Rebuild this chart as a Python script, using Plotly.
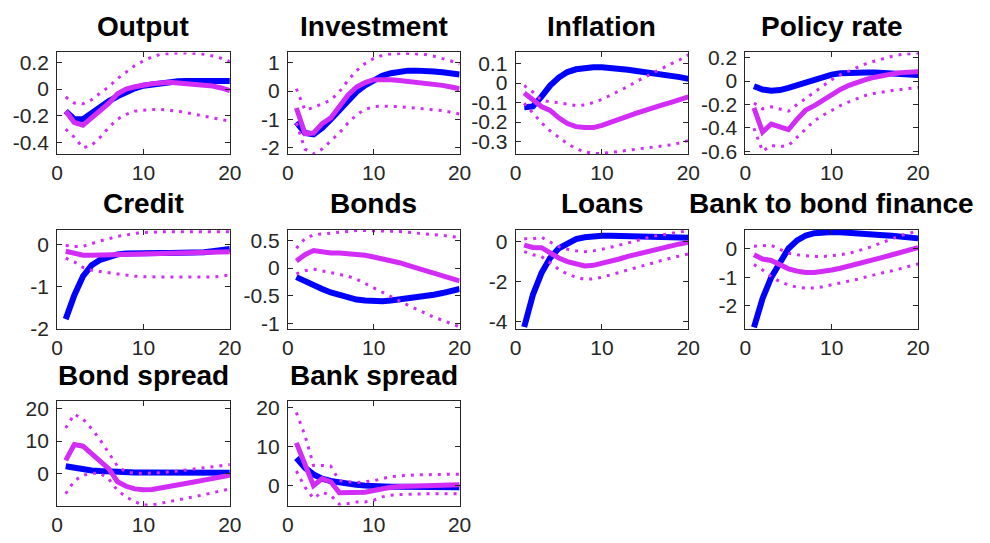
import plotly.graph_objects as go

horizon = list(range(1, 21))
titles = ["Output", "Investment", "Inflation", "Policy rate", "Credit", "Bonds",
          "Loans", "Bank to bond finance", "Bond spread", "Bank spread"]

output_blue = [-0.165, -0.225, -0.225, -0.18, -0.13, -0.09, -0.055, -0.02, 0.005, 0.025,
               0.035, 0.045, 0.053, 0.058, 0.06, 0.06, 0.06, 0.06, 0.06, 0.06]
output_mag = [-0.165, -0.25, -0.27, -0.215, -0.155, -0.105, -0.035, 0.0, 0.017, 0.033,
              0.04, 0.045, 0.05, 0.045, 0.04, 0.035, 0.028, 0.022, 0.008, -0.012]
output_hi = [-0.06, -0.105, -0.11, -0.08, -0.03, 0.017, 0.078, 0.126, 0.175, 0.21,
             0.24, 0.26, 0.267, 0.27, 0.27, 0.267, 0.26, 0.247, 0.23, 0.205]
output_lo = [-0.3, -0.36, -0.44, -0.42, -0.36, -0.286, -0.225, -0.19, -0.165, -0.157,
             -0.153, -0.153, -0.157, -0.165, -0.177, -0.19, -0.2, -0.213, -0.225, -0.24]

invest_blue = [-1.1, -1.48, -1.53, -1.3, -1.0, -0.67, -0.32, -0.03, 0.2, 0.39,
               0.54, 0.63, 0.69, 0.72, 0.72, 0.72, 0.69, 0.66, 0.62, 0.58]
invest_mag = [-0.6, -1.5, -1.48, -1.15, -0.95, -0.55, -0.15, 0.14, 0.3, 0.4,
              0.42, 0.4, 0.37, 0.34, 0.31, 0.28, 0.25, 0.2, 0.14, 0.08]
invest_hi = [0.08, -0.67, -0.58, -0.44, -0.32, -0.03, 0.37, 0.72, 0.97, 1.15,
             1.26, 1.31, 1.33, 1.33, 1.31, 1.29, 1.23, 1.15, 1.06, 0.95]
invest_lo = [-1.13, -2.05, -2.22, -2.05, -1.76, -1.48, -1.13, -0.84, -0.65, -0.55,
             -0.53, -0.53, -0.55, -0.58, -0.61, -0.65, -0.67, -0.69, -0.75, -0.81]

infl_blue = [-0.124, -0.12, -0.07, -0.013, 0.028, 0.056, 0.07, 0.078, 0.081, 0.081,
             0.078, 0.073, 0.068, 0.061, 0.056, 0.05, 0.043, 0.036, 0.03, 0.021]
infl_mag = [-0.051, -0.088, -0.12, -0.14, -0.178, -0.207, -0.223, -0.228, -0.228, -0.217,
            -0.2, -0.187, -0.17, -0.154, -0.14, -0.129, -0.112, -0.099, -0.084, -0.071]
infl_hi = [-0.013, -0.046, -0.088, -0.096, -0.1, -0.109, -0.116, -0.112, -0.1, -0.084,
           -0.063, -0.041, -0.018, 0.008, 0.031, 0.053, 0.078, 0.098, 0.119, 0.144]
infl_lo = [-0.104, -0.154, -0.203, -0.245, -0.278, -0.31, -0.336, -0.352, -0.36, -0.36,
           -0.355, -0.349, -0.344, -0.336, -0.33, -0.327, -0.322, -0.316, -0.306, -0.294]

policy_blue = [-0.044, -0.072, -0.083, -0.077, -0.058, -0.036, -0.008, 0.019, 0.039, 0.055,
               0.066, 0.072, 0.074, 0.074, 0.074, 0.072, 0.069, 0.063, 0.058, 0.052]
policy_mag = [-0.229, -0.436, -0.367, -0.386, -0.414, -0.326, -0.248, -0.21, -0.16, -0.11,
              -0.072, -0.036, -0.008, 0.014, 0.033, 0.05, 0.061, 0.072, 0.077, 0.08]
policy_hi = [-0.188, -0.237, -0.22, -0.237, -0.257, -0.2, -0.146, -0.091, -0.036, 0.011,
             0.055, 0.088, 0.121, 0.149, 0.171, 0.193, 0.212, 0.226, 0.234, 0.24]
policy_lo = [-0.403, -0.6, -0.55, -0.56, -0.55, -0.477, -0.403, -0.339, -0.292, -0.248,
             -0.21, -0.177, -0.146, -0.121, -0.105, -0.091, -0.08, -0.072, -0.063, -0.055]

credit_blue = [-1.78, -1.21, -0.76, -0.5, -0.37, -0.29, -0.24, -0.22, -0.21, -0.21,
               -0.21, -0.21, -0.21, -0.21, -0.21, -0.2, -0.19, -0.165, -0.14, -0.11]
credit_mag = [-0.165, -0.22, -0.26, -0.26, -0.255, -0.24, -0.235, -0.225, -0.217, -0.217,
              -0.217, -0.217, -0.21, -0.21, -0.21, -0.21, -0.2, -0.195, -0.19, -0.18]
credit_hi = [-0.03, -0.05, -0.05, 0.02, 0.08, 0.13, 0.19, 0.22, 0.26, 0.28,
             0.29, 0.3, 0.3, 0.3, 0.3, 0.3, 0.3, 0.3, 0.3, 0.3]
credit_lo = [-0.33, -0.42, -0.55, -0.62, -0.65, -0.68, -0.7, -0.73, -0.76, -0.77,
             -0.78, -0.78, -0.78, -0.78, -0.78, -0.78, -0.78, -0.78, -0.76, -0.73]

bonds_blue = [-0.163, -0.24, -0.31, -0.376, -0.44, -0.49, -0.54, -0.567, -0.585, -0.596,
              -0.596, -0.585, -0.567, -0.55, -0.527, -0.504, -0.48, -0.45, -0.42, -0.376]
bonds_mag = [0.126, 0.242, 0.317, 0.29, 0.27, 0.27, 0.26, 0.247, 0.23, 0.2,
             0.172, 0.138, 0.097, 0.05, 0.005, -0.047, -0.094, -0.134, -0.18, -0.232]
bonds_hi = [0.357, 0.53, 0.6, 0.617, 0.63, 0.646, 0.658, 0.675, 0.675, 0.675,
            0.675, 0.664, 0.658, 0.646, 0.63, 0.617, 0.6, 0.588, 0.57, 0.548]
bonds_lo = [-0.105, -0.047, -0.018, -0.047, -0.076, -0.105, -0.146, -0.2, -0.28, -0.354,
            -0.435, -0.52, -0.6, -0.67, -0.74, -0.815, -0.885, -0.94, -1.0, -1.06]

loans_blue = [-4.29, -2.67, -1.57, -0.81, -0.32, -0.05, 0.15, 0.24, 0.29, 0.31,
              0.31, 0.29, 0.29, 0.29, 0.28, 0.26, 0.25, 0.24, 0.23, 0.21]
loans_mag = [-0.16, -0.28, -0.29, -0.57, -0.81, -0.99, -1.13, -1.21, -1.18, -1.09,
             -0.97, -0.86, -0.73, -0.62, -0.49, -0.37, -0.28, -0.19, -0.1, -0.02]
loans_hi = [0.16, 0.16, 0.24, 0.0, -0.24, -0.37, -0.45, -0.49, -0.45, -0.37,
            -0.28, -0.16, -0.05, 0.08, 0.19, 0.29, 0.37, 0.44, 0.5, 0.57]
loans_lo = [-0.49, -0.65, -0.73, -1.05, -1.38, -1.62, -1.78, -1.89, -1.86, -1.78,
            -1.67, -1.54, -1.41, -1.3, -1.18, -1.05, -0.92, -0.81, -0.7, -0.6]

b2b_blue = [-2.75, -1.74, -1.01, -0.45, 0.0, 0.28, 0.45, 0.53, 0.56, 0.57,
            0.56, 0.55, 0.53, 0.51, 0.48, 0.46, 0.44, 0.42, 0.38, 0.35]
b2b_mag = [-0.22, -0.37, -0.42, -0.56, -0.71, -0.79, -0.84, -0.84, -0.81, -0.75,
           -0.69, -0.62, -0.54, -0.46, -0.38, -0.3, -0.22, -0.15, -0.06, 0.03]
b2b_hi = [0.08, 0.09, 0.11, -0.03, -0.17, -0.22, -0.26, -0.28, -0.28, -0.26,
          -0.22, -0.17, -0.09, 0.0, 0.11, 0.22, 0.34, 0.45, 0.53, 0.6]
b2b_lo = [-0.56, -0.75, -0.98, -1.16, -1.27, -1.35, -1.38, -1.38, -1.33, -1.27,
          -1.2, -1.13, -1.07, -0.99, -0.91, -0.84, -0.78, -0.7, -0.62, -0.54]

bondspr_blue = [2.2, 1.7, 1.2, 0.9, 0.7, 0.5, 0.4, 0.3, 0.3, 0.3,
                0.3, 0.25, 0.25, 0.2, 0.2, 0.2, 0.2, 0.2, 0.2, 0.2]
bondspr_mag = [4.0, 8.9, 8.4, 6.2, 4.0, 1.4, -2.6, -4.0, -4.8, -5.1,
               -5.0, -4.6, -4.1, -3.6, -3.1, -2.6, -2.1, -1.6, -1.1, -0.6]
bondspr_hi = [14.0, 18.3, 16.8, 13.8, 10.3, 6.2, 2.2, 0.4, 0.0, 0.0,
              0.0, 0.2, 0.4, 0.7, 1.0, 1.4, 1.7, 2.0, 2.4, 2.7]
bondspr_lo = [-6.3, -2.3, -0.6, 0.0, 0.0, -1.8, -5.3, -7.3, -8.8, -9.8,
              -9.8, -9.3, -8.8, -8.3, -7.8, -7.3, -6.6, -6.0, -5.4, -4.8]

bankspr_blue = [7.1, 4.6, 2.9, 1.8, 1.2, 0.75, 0.4, 0.2, 0.0, -0.2,
                -0.25, -0.3, -0.3, -0.3, -0.35, -0.35, -0.35, -0.4, -0.4, -0.4]
bankspr_mag = [11.0, 5.8, 0.0, 1.8, 1.0, -1.8, -1.7, -1.5, -1.7, -1.25,
               -0.7, -0.4, -0.25, -0.17, -0.1, 0.0, 0.05, 0.1, 0.15, 0.2]
bankspr_hi = [18.8, 12.9, 5.2, 5.2, 5.0, 1.25, 1.0, 0.8, 1.0, 1.25,
              1.8, 2.3, 2.5, 2.7, 2.75, 2.8, 2.9, 2.9, 2.9, 2.9]
bankspr_lo = [3.75, -0.4, -3.3, -1.7, -2.5, -4.8, -4.6, -4.2, -4.2, -3.75,
              -2.9, -2.5, -2.3, -2.2, -2.1, -2.1, -2.1, -2.1, -2.1, -2.1]

blue_series = [output_blue, invest_blue, infl_blue, policy_blue, credit_blue,
               bonds_blue, loans_blue, b2b_blue, bondspr_blue, bankspr_blue]
mag_series = [output_mag, invest_mag, infl_mag, policy_mag, credit_mag,
              bonds_mag, loans_mag, b2b_mag, bondspr_mag, bankspr_mag]
hi_series = [output_hi, invest_hi, infl_hi, policy_hi, credit_hi,
             bonds_hi, loans_hi, b2b_hi, bondspr_hi, bankspr_hi]
lo_series = [output_lo, invest_lo, infl_lo, policy_lo, credit_lo,
             bonds_lo, loans_lo, b2b_lo, bondspr_lo, bankspr_lo]

y_ticks = [[-0.4, -0.2, 0, 0.2], [-2, -1, 0, 1], [-0.3, -0.2, -0.1, 0, 0.1],
           [-0.6, -0.4, -0.2, 0, 0.2], [-2, -1, 0], [-1, -0.5, 0, 0.5],
           [-4, -2, 0], [-2, -1, 0], [0, 10, 20], [0, 10, 20]]
y_ranges = [[-0.487, 0.273], [-2.23, 1.36], [-0.364, 0.156], [-0.625, 0.244],
            [-2.005, 0.345], [-1.09, 0.69], [-4.37, 0.615], [-2.79, 0.65],
            [-10.05, 22.3], [-5.2, 21.7]]
x_ticks = [0, 10, 20]

# layout in pixels (figure 990 x 543)
W, H = 990, 543
col_px = [(52, 228), (287, 462), (519, 695), (753, 929)]
row_px = [(48, 153), (231, 333), (408, 516)]

BLUE = "#0000FF"
MAG = "#D22CF7"
AX = "#262626"
FONT = "Liberation Sans, Arial"


def fmt(v):
    return "%g" % v


fig = go.Figure()
annotations = []
for i, title in enumerate(titles):
    r, c = divmod(i, 4)
    x0, x1 = col_px[c]
    t, b = row_px[r]
    n = i + 1
    xa = "x" if n == 1 else "x%d" % n
    ya = "y" if n == 1 else "y%d" % n
    common = dict(showgrid=False, zeroline=False, showline=True, linecolor=AX,
                  linewidth=1, mirror="allticks", ticks="inside", ticklen=5,
                  tickwidth=1, tickcolor=AX,
                  tickfont=dict(family=FONT, size=21, color=AX))
    fig.update_layout(**{
        ("xaxis" if n == 1 else "xaxis%d" % n): dict(
            domain=[x0 / W, x1 / W], anchor=ya, range=[0, 20], tickmode="array",
            tickvals=x_ticks, ticktext=[fmt(v) for v in x_ticks],
            ticklabelstandoff=0, **common),
        ("yaxis" if n == 1 else "yaxis%d" % n): dict(
            domain=[1 - b / H, 1 - t / H], anchor=xa, range=y_ranges[i],
            tickmode="array", tickvals=y_ticks[i],
            ticktext=[fmt(v) for v in y_ticks[i]], ticklabelstandoff=3, **common),
    })
    fig.add_trace(go.Scatter(x=horizon, y=blue_series[i], mode="lines",
                             line=dict(color=BLUE, width=6), xaxis=xa, yaxis=ya,
                             showlegend=False, hoverinfo="skip"))
    fig.add_trace(go.Scatter(x=horizon, y=mag_series[i], mode="lines",
                             line=dict(color=MAG, width=5), xaxis=xa, yaxis=ya,
                             showlegend=False, hoverinfo="skip"))
    for band in (hi_series[i], lo_series[i]):
        fig.add_trace(go.Scatter(x=horizon, y=band, mode="lines",
                                 line=dict(color=MAG, width=3, dash="3px,6px"),
                                 xaxis=xa, yaxis=ya, showlegend=False,
                                 hoverinfo="skip"))
    annotations.append(dict(text="<b>%s</b>" % title, xref="paper", yref="paper",
                            x=(x0 + x1) / 2 / W, y=1 - (t - 9) / H,
                            xanchor="center", yanchor="bottom", showarrow=False,
                            font=dict(family=FONT, size=28, color="black")))

fig.update_layout(width=W, height=H, margin=dict(l=0, r=0, t=0, b=0),
                  paper_bgcolor="white", plot_bgcolor="white",
                  annotations=annotations)
fig.write_html("out.html", config={"displayModeBar": False},
               post_script="document.body.style.margin='0';"
                           "document.body.style.overflow='hidden';")
